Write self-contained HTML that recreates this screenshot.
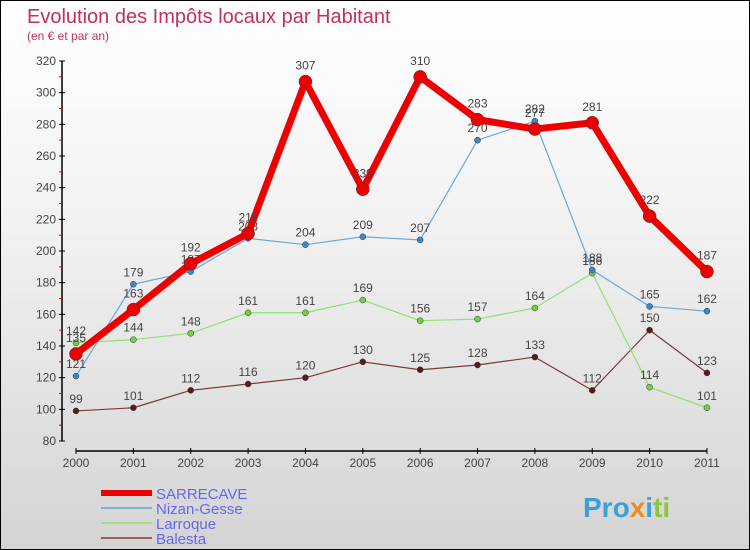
<!DOCTYPE html>
<html><head><meta charset="utf-8"><style>
body{margin:0}
#c{width:750px;height:550px;position:relative;overflow:hidden;box-sizing:border-box;border:1px solid #000;background:linear-gradient(#ffffff 0%,#f2f2f2 40%,#d4d4d4 100%);font-family:"Liberation Sans",sans-serif}
</style></head><body>
<div id="c">
<svg width="750" height="550" style="position:absolute;left:0;top:0">
<text x="26" y="22" font-size="20" fill="#c0305a">Evolution des Impôts locaux par Habitant</text>
<text x="26" y="39" font-size="12" fill="#c0305a">(en € et par an)</text>
<g id="axes"></g><g id="series"></g><g id="legend"></g>
<text x="582" y="516" font-size="28" font-weight="bold" fill="#3aa0d8">Pro<tspan fill="#f08a1c">x</tspan><tspan fill="#3aa0d8">i</tspan><tspan fill="#8cc63f">ti</tspan></text>
</svg>
</div>
<script>
const years=["2000","2001","2002","2003","2004","2005","2006","2007","2008","2009","2010","2011"];
const yTicks=[80,100,120,140,160,180,200,220,240,260,280,300,320];
const sarrecave=[135,163,192,211,307,239,310,283,277,281,222,187];
const nizan=[121,179,187,208,204,209,207,270,282,188,165,162];
const larroque=[142,144,148,161,161,169,156,157,164,186,114,101];
const balesta=[99,101,112,116,120,130,125,128,133,112,150,123];
const NS="http://www.w3.org/2000/svg";
const X=i=>75+i*57.36;
const Y=v=>440-(v-80)*380/240;
function mk(t,a,p){const e=document.createElementNS(NS,t);for(const k in a)e.setAttribute(k,a[k]);p.appendChild(e);return e;}
const ax=document.getElementById('axes');
let l=mk('line',{x1:61,y1:60,x2:61,y2:440,stroke:'#000','stroke-width':1.5},ax);


l=mk('line',{x1:75,y1:450,x2:706,y2:450,stroke:'#000','stroke-width':1.5},ax);


yTicks.forEach((v,i)=>{
 mk('line',{x1:58,y1:Y(v),x2:64,y2:Y(v),stroke:'#000'},ax);
 if(i<yTicks.length-1)mk('line',{x1:58,y1:Y(v+10),x2:61,y2:Y(v+10),stroke:'#e00'},ax);
 const t=mk('text',{x:55,y:Y(v)+4,'font-size':12,fill:'#444','text-anchor':'end'},ax);t.textContent=v;
 
 
});
years.forEach((y,i)=>{
 mk('line',{x1:X(i),y1:447,x2:X(i),y2:453,stroke:'#000'},ax);
 const t=mk('text',{x:X(i),y:466,'font-size':12,fill:'#444','text-anchor':'middle'},ax);t.textContent=y;
 
 
});
const sg=document.getElementById('series');
function draw(data,color,w,r,dot,name,labelOff){
 const g=mk('g',{},sg);
 
 
 mk('polyline',{points:data.map((v,i)=>X(i)+','+Y(v)).join(' '),fill:'none',stroke:color,'stroke-width':w,'stroke-linejoin':'round'},g);
 data.forEach((v,i)=>{
  const c=mk('circle',{cx:X(i),cy:Y(v),r:r,fill:dot,stroke:'#333','stroke-width':0.5},g);
  
  
  const t=mk('text',{x:X(i),y:Y(v)-labelOff,'font-size':12,fill:'#444','text-anchor':'middle'},g);t.textContent=v;
  
  
 });
}
draw(balesta,'#7a3a3a',1.2,3,'#5a1a1a','balesta',8);
draw(larroque,'#90e070',1.2,3,'#70d040','larroque',8);
draw(nizan,'#6aa8d8',1.2,3,'#3a88c8','nizan-gesse',8);
draw(sarrecave,'#ee0000',7,6.5,'#ee0000','sarrecave',12);
const lg=document.getElementById('legend');
[["SARRECAVE","#ee0000",6],["Nizan-Gesse","#7ab0d8",2],["Larroque","#a0e080",2],["Balesta","#9a6060",2]].forEach((s,i)=>{
 const y=492+i*15;
 const g=mk('g',{},lg);
 
 
 mk('line',{x1:100,y1:y,x2:151,y2:y,stroke:s[1],'stroke-width':s[2]},g);
 const t=mk('text',{x:155,y:y+6,'font-size':15,fill:'#6666ee'},g);t.textContent=s[0];
});
</script>
</body></html>
